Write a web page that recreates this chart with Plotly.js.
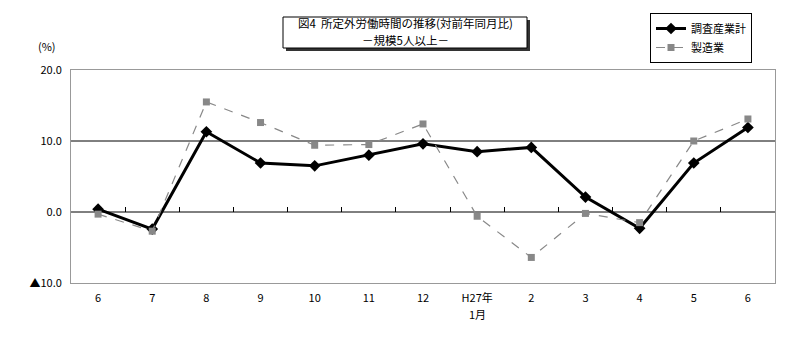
<!DOCTYPE html>
<html><head><meta charset="utf-8">
<script src="https://cdn.plot.ly/plotly-3.0.1.min.js"></script>
<style>body{margin:0;background:#fff}#c{width:800px;height:339px}</style>
</head><body><div id="c"></div>
<script>
const monthLabels = ['6','7','8','9','10','11','12','H27年','2','3','4','5','6'];
const yearMonthNote = '1月';
const allIndustries = [0.4, -2.4, 11.3, 6.9, 6.5, 8.0, 9.6, 8.5, 9.1, 2.1, -2.3, 6.9, 11.9];
const manufacturing = [-0.3, -2.7, 15.5, 12.6, 9.4, 9.5, 12.4, -0.6, -6.4, -0.2, -1.5, 10.0, 13.1];
const yTickVals = [-10, 0, 10, 20];
const yTickText = ['▲10.0', '0.0', '10.0', '20.0'];

const xs = monthLabels.map((_, i) => i);
const bounds = monthLabels.slice(1).map((_, i) => i + 0.5);
const F = 'Noto Sans CJK JP, sans-serif';
const px = v => (v - 71) / 704;   // paper x from pixel
const py = v => (283 - v) / 213;  // paper y from pixel

const traces = [
  {x: xs, y: allIndustries, name: '調査産業計', type: 'scatter', mode: 'lines+markers',
   line: {color: '#000', width: 3}, marker: {symbol: 'diamond', size: 9, color: '#000'}},
  {x: xs, y: manufacturing, name: '製造業', type: 'scatter', mode: 'lines+markers',
   line: {color: '#888', width: 1.2, dash: 'dash'}, marker: {symbol: 'square', size: 7, color: '#888'}},
  {x: [0], y: [0], xaxis: 'x2', showlegend: false, hoverinfo: 'skip', mode: 'markers', marker: {opacity: 0}}
];

const layout = {
  width: 800, height: 339,
  margin: {l: 71, r: 25, t: 70, b: 56},
  paper_bgcolor: '#fff', plot_bgcolor: '#fff',
  font: {family: F, size: 11, color: '#000'},
  showlegend: true,
  legend: {x: px(650), y: py(13), xanchor: 'left', yanchor: 'top', bordercolor: '#000', borderwidth: 1,
           bgcolor: '#fff', font: {family: F, size: 11}, tracegroupgap: 0},
  xaxis: {range: [-0.5, 12.5], tickvals: xs, ticktext: monthLabels, showgrid: false, zeroline: false,
          showline: true, linecolor: '#999', mirror: true, ticks: '', ticklabelstandoff: 5,
          tickfont: {family: F, size: 11}},
  xaxis2: {overlaying: 'x', matches: 'x', anchor: 'free', position: 1/3, tickvals: bounds,
           ticks: 'inside', ticklen: 5, tickcolor: '#000', showticklabels: false, showline: false,
           showgrid: false, zeroline: false},
  yaxis: {range: [-10, 20], tickvals: yTickVals, ticktext: yTickText, showgrid: false, zeroline: false,
          showline: true, linecolor: '#999', mirror: true, ticks: '', ticklabelstandoff: 6,
          tickfont: {family: F, size: 11}},
  shapes: [
    {type: 'line', xref: 'paper', x0: 0, x1: 1, yref: 'y', y0: 10, y1: 10, line: {color: '#000', width: 1}, layer: 'below'},
    {type: 'line', xref: 'paper', x0: 0, x1: 1, yref: 'y', y0: 0, y1: 0, line: {color: '#000', width: 1}, layer: 'below'},
    {type: 'rect', xref: 'paper', yref: 'paper', x0: px(286), x1: px(530), y0: py(51), y1: py(20),
     fillcolor: '#333', line: {width: 0}},
    {type: 'rect', xref: 'paper', yref: 'paper', x0: px(283), x1: px(527), y0: py(48), y1: py(17),
     fillcolor: '#fff', line: {color: '#000', width: 1}}
  ],
  annotations: [
    {text: '図4  所定外労働時間の推移(対前年同月比)', xref: 'paper', yref: 'paper',
     x: px(405), y: py(23), xanchor: 'center', yanchor: 'middle', showarrow: false,
     font: {family: F, size: 11.5}},
    {text: '－規模5人以上－', xref: 'paper', yref: 'paper',
     x: px(405), y: py(40), xanchor: 'center', yanchor: 'middle', showarrow: false,
     font: {family: F, size: 11.5}},
    {text: '(%)', xref: 'paper', yref: 'paper', x: px(47), y: py(46), xanchor: 'center', yanchor: 'middle',
     showarrow: false, font: {family: F, size: 11}},
    {text: yearMonthNote, xref: 'x', yref: 'paper', x: 7, y: py(314), xanchor: 'center', yanchor: 'middle',
     showarrow: false, font: {family: F, size: 11}}
  ]
};
Plotly.newPlot('c', traces, layout, {displayModeBar: false, staticPlot: true});
</script></body></html>
